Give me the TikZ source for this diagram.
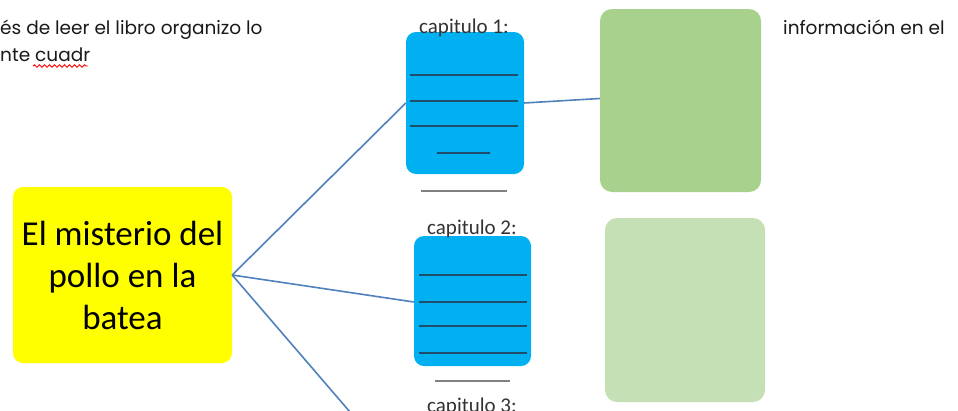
\documentclass[tikz,border=0pt]{standalone}
\usepackage{fontspec}
\setmainfont{Carlito}
\newfontfamily\gothic{Poppins}
\usetikzlibrary{decorations.pathmorphing}
\definecolor{yel}{HTML}{FFFF00}
\definecolor{cyanbox}{HTML}{00B0F0}
\definecolor{greenA}{HTML}{A9D18E}
\definecolor{greenB}{HTML}{C5E0B4}
\definecolor{conn}{HTML}{4F81BD}
\definecolor{rule}{HTML}{1F4E6B}
\tikzset{
  main/.style={fill=yel, rounded corners=10pt, draw=none},
  chap/.style={fill=cyanbox, rounded corners=10pt, draw=none},
  gbox/.style={rounded corners=12pt, draw=none},
  conline/.style={draw=conn, line width=1.6pt},
  ruled/.style={draw=rule, line width=1.8pt},
  underl/.style={draw=gray, line width=1.5pt},
  chaplabel/.style={font=\fontsize{21}{24}\selectfont, inner sep=0pt, text=black!80},
  headtext/.style={anchor=base west, inner sep=0pt, font=\gothic\fontsize{18.5}{20}\selectfont, text=black!90},
}
\begin{document}
\begin{tikzpicture}[x=1pt,y=-1pt]
\clip (0,0) rectangle (958,410);
\fill[white] (0,0) rectangle (958,410);
% header text
\node[headtext] (h1) at (0,34) {és de leer el libro organizo lo};
\node[headtext] (h2) at (0,61) {nte cuadr};
\draw[red, line width=0.9pt, decorate, decoration={snake, amplitude=1.2pt, segment length=5pt}] (33,66) -- (88,66);
\node[headtext] (info) at (783,34) {información en el};
% main box
\node[main, minimum width=219pt, minimum height=176pt, align=center, font=\fontsize{35}{42}\selectfont] (m) at (122.5,275) {El misterio del\\pollo en la\\batea};
% chapter 1
\node[chap, minimum width=118pt, minimum height=142pt] (c1) at (465,103) {};
\node[chaplabel, anchor=base] (l1) at (464,33) {capitulo 1:};
\draw[ruled] (410,75) -- (518,75);
\draw[ruled] (410,101) -- (518,101);
\draw[ruled] (410,126) -- (518,126);
\draw[ruled] (437,153) -- (490,153);
\draw[underl] (421,191) -- (507,191);
% chapter 2
\node[chap, minimum width=117pt, minimum height=130pt] (c2) at (472.5,301) {};
\node[chaplabel, anchor=base] (l2) at (472,234) {capitulo 2:};
\draw[ruled] (419,275) -- (527,275);
\draw[ruled] (419,302) -- (527,302);
\draw[ruled] (419,326) -- (527,326);
\draw[ruled] (419,353) -- (527,353);
\draw[underl] (435,381) -- (510,381);
\node[chaplabel, anchor=base] (l3) at (472,412) {capitulo 3:};
% green boxes
\node[gbox, fill=greenA, minimum width=161pt, minimum height=183pt] (g1) at (680.5,100.5) {};
\node[gbox, fill=greenB, minimum width=160pt, minimum height=184pt] (g2) at (685,310) {};
% connectors
\coordinate (off) at (350,412);
\draw[conline] (m.east) -- (c1.west);
\draw[conline] (m.east) -- ([yshift=-1pt]c2.west);
\draw[conline] (m.east) -- (off);
\draw[conline] (c1.east) -- ([yshift=2pt]g1.west);
\end{tikzpicture}
\end{document}
